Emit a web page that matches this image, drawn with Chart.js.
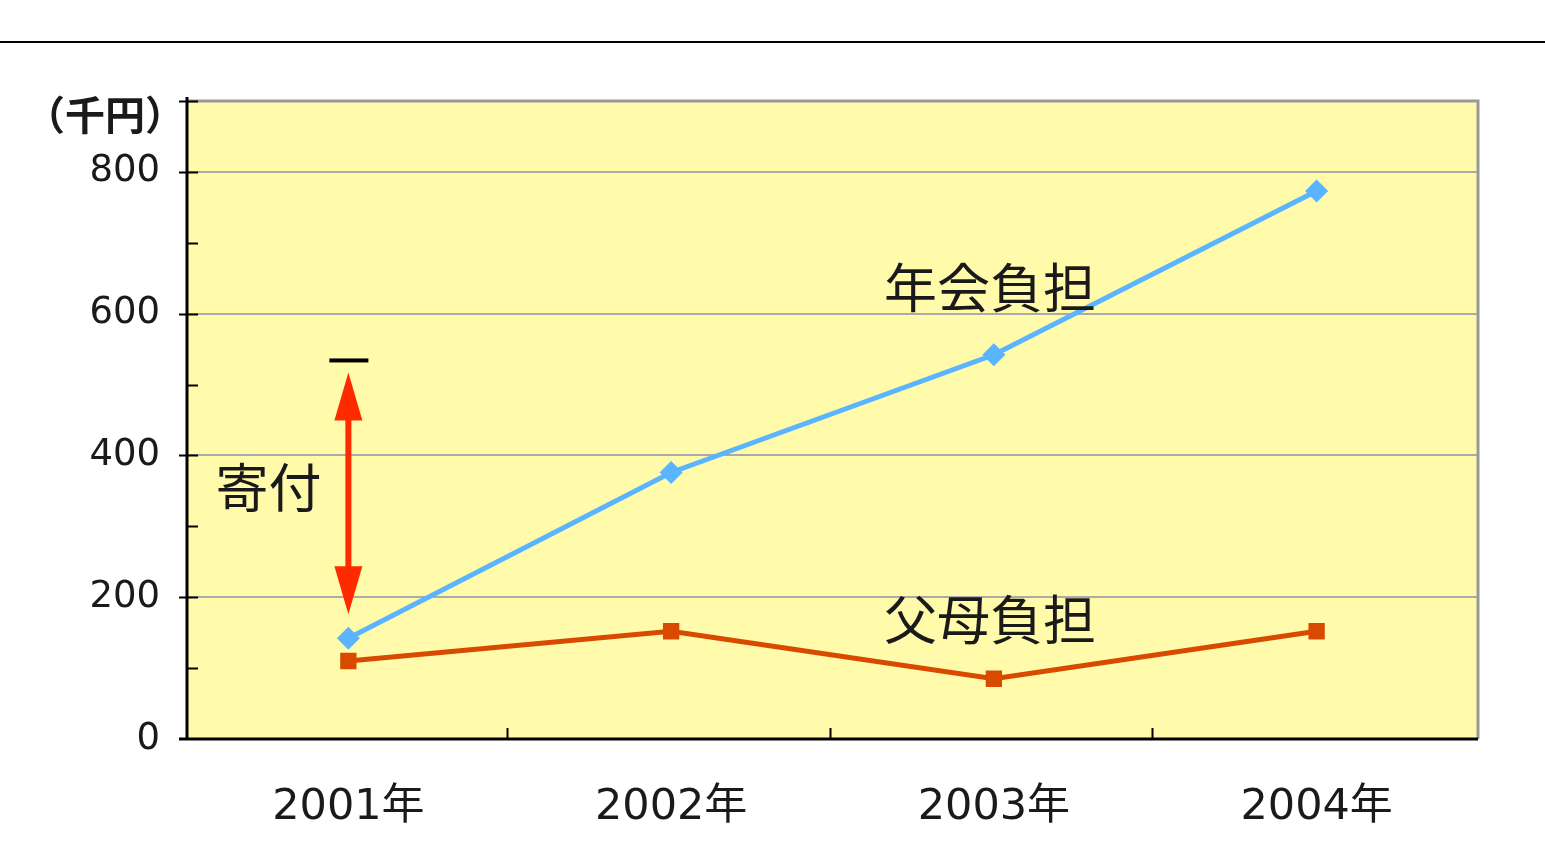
<!DOCTYPE html>
<html>
<head>
<meta charset="utf-8">
<script src="https://cdn.jsdelivr.net/npm/chart.js@4/dist/chart.umd.min.js"></script>
<style>
  html, body { margin: 0; padding: 0; background: #fff; }
  #wrap { position: relative; width: 1545px; height: 846px; }
</style>
</head>
<body>
<div id="wrap"><canvas id="burdenChart"></canvas></div>
<script>
// 負担の推移（千円）
const years = ['2001年', '2002年', '2003年', '2004年'];
const nenkaiFutan = [142, 376, 542, 773];   // 年会負担
const fuboFutan = [110, 152, 85, 152];      // 父母負担
const yLabeled = [0, 200, 400, 600, 800];
const yMax = 900;

// 寄付の矢印（2001年の位置）
const kifuArrow = [176, 517];
const kifuBar = 534;

const TEXT = '#1a1a1a';
const tickFont = "'DejaVu Sans', 'Noto Sans CJK JP', sans-serif";
const cjkFont = "'Noto Sans CJK JP', sans-serif";

// plot background, inner tick marks, axes and the callouts
const framePlugin = {
    id: 'frame',
    beforeDraw(chart) {
        const { ctx, chartArea: a } = chart;
        ctx.save();
        // rule across the top of the page
        ctx.fillStyle = '#000';
        ctx.fillRect(0, 41, chart.width, 2);
        ctx.fillStyle = '#FFFBAA';
        ctx.fillRect(a.left, a.top, a.right - a.left, a.bottom - a.top);
        ctx.restore();
    },
    afterDatasetsDraw(chart) {
        const { ctx, chartArea: a, scales } = chart;
        const x = scales.x, y = scales.y;
        ctx.save();
        // gray frame top / right
        ctx.strokeStyle = '#999';
        ctx.lineWidth = 3;
        ctx.beginPath();
        ctx.moveTo(a.left, a.top);
        ctx.lineTo(a.right, a.top);
        ctx.lineTo(a.right, a.bottom);
        ctx.stroke();
        // axes
        ctx.strokeStyle = '#000';
        ctx.lineWidth = 3;
        ctx.beginPath();
        ctx.moveTo(a.left, a.top - 4);
        ctx.lineTo(a.left, a.bottom);
        ctx.moveTo(a.left - 8, a.bottom);
        ctx.lineTo(a.right, a.bottom);
        ctx.stroke();
        // y ticks every 100
        ctx.lineWidth = 2;
        ctx.beginPath();
        for (let v = 100; v <= yMax; v += 100) {
            const py = Math.round(y.getPixelForValue(v)) + 0.5;
            const major = v % 200 === 0 || v === yMax;
            ctx.moveTo(a.left - (major ? 8 : 0), py);
            ctx.lineTo(a.left + 11, py);
        }
        // x ticks between categories
        for (let i = 1; i < years.length; i++) {
            const px = Math.round((x.getPixelForTick(i - 1) + x.getPixelForTick(i)) / 2) - 3;
            ctx.moveTo(px + 0.5, a.bottom);
            ctx.lineTo(px + 0.5, a.bottom - 11);
        }
        ctx.stroke();

        // unit label
        ctx.fillStyle = TEXT;
        ctx.font = "bold 40px " + cjkFont;
        ctx.textAlign = 'right';
        ctx.textBaseline = 'middle';
        ctx.fillText('（千円）', a.left - 2, y.getPixelForValue(yMax) + 14);

        // series callouts
        ctx.font = "53px " + cjkFont;
        ctx.textAlign = 'center';
        ctx.fillText('年会負担', x.getPixelForValue(2) - 4, y.getPixelForValue(637));
        ctx.fillText('父母負担', x.getPixelForValue(2) - 4, y.getPixelForValue(168));
        ctx.fillText('寄付', x.getPixelForValue(0) - 80, y.getPixelForValue(354));

        // 寄付 arrow
        const ax = x.getPixelForValue(0);
        const top = y.getPixelForValue(kifuArrow[1]);
        const bot = y.getPixelForValue(kifuArrow[0]);
        ctx.fillStyle = '#FF2A00';
        ctx.fillRect(ax - 3, top + 40, 6, bot - top - 80);
        ctx.beginPath();
        ctx.moveTo(ax, top);
        ctx.lineTo(ax + 14, top + 48);
        ctx.lineTo(ax - 14, top + 48);
        ctx.closePath();
        ctx.moveTo(ax, bot);
        ctx.lineTo(ax + 14, bot - 48);
        ctx.lineTo(ax - 14, bot - 48);
        ctx.closePath();
        ctx.fill();
        ctx.fillStyle = '#000';
        const by = y.getPixelForValue(kifuBar);
        ctx.fillRect(ax - 19, by - 2, 39, 4);
        ctx.restore();
    }
};

new Chart(document.getElementById('burdenChart'), {
    type: 'line',
    data: {
        labels: years,
        datasets: [{
            label: '年会負担',
            data: nenkaiFutan,
            borderColor: '#5BB4FF',
            backgroundColor: '#5BB4FF',
            borderWidth: 5,
            pointStyle: 'rectRot',
            pointRadius: 8,
            pointHoverRadius: 8,
            tension: 0
        }, {
            label: '父母負担',
            data: fuboFutan,
            borderColor: '#D84A00',
            backgroundColor: '#D84A00',
            borderWidth: 5,
            pointStyle: 'rect',
            pointRadius: 8,
            pointHoverRadius: 8,
            tension: 0
        }]
    },
    options: {
        responsive: true,
        maintainAspectRatio: false,
        animation: false,
        layout: { padding: { top: 101, right: 67, left: 0, bottom: 0 } },
        plugins: {
            legend: { display: false },
            tooltip: { enabled: false }
        },
        scales: {
            x: {
                type: 'category',
                offset: true,
                grid: { display: false },
                border: { display: false },
                ticks: {
                    color: TEXT,
                    padding: 35,
                    font: { family: tickFont, size: 43 }
                },
                afterFit(scale) { scale.height = 107; }
            },
            y: {
                min: 0,
                max: yMax,
                border: { display: false },
                grid: {
                    drawTicks: false,
                    lineWidth: 2,
                    color: c => (c.tick && c.tick.value > 0 && c.tick.value < yMax && c.tick.value % 200 === 0) ? '#AAAAAA' : 'transparent'
                },
                ticks: {
                    stepSize: 100,
                    color: TEXT,
                    padding: 27,
                    font: { family: tickFont, size: 37 },
                    callback: v => yLabeled.includes(v) ? String(v) : ''
                },
                afterFit(scale) { scale.width = 187; }
            }
        }
    },
    plugins: [framePlugin]
});
</script>
</body>
</html>
